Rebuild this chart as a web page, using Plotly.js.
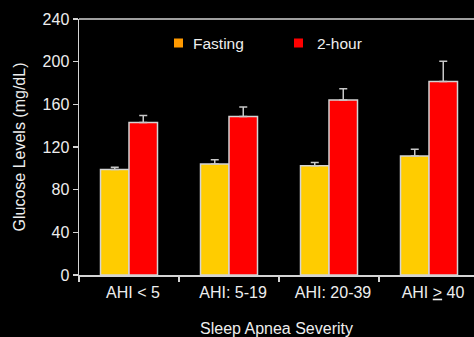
<!DOCTYPE html>
<html>
<head>
<meta charset="utf-8">
<script src="https://cdn.plot.ly/plotly-3.0.1.min.js"></script>
<style>html,body{margin:0;padding:0;background:#000;}</style>
</head>
<body>
<div id="chart" style="width:474px;height:337px;"></div>
<script>
var categories = ["AHI < 5", "AHI: 5-19", "AHI: 20-39", "AHI <u>></u> 40"];
var seriesNames = ["Fasting", "2-hour"];
var fastingValues = [99, 104, 102.5, 111.5];
var fastingErrors = [2, 4, 3, 6.5];
var twoHourValues = [143, 148.5, 164, 181.5];
var twoHourErrors = [6.5, 9, 10.5, 19];
var yTicks = [0, 40, 80, 120, 160, 200, 240];

var W = 474, H = 337;
var M = {l: 79, r: 0, t: 19, b: 62};
var PW = W - M.l - M.r, PH = H - M.t - M.b;
function px(x) { return (x - M.l) / PW; }
function py(y) { return 1 - (y - M.t) / PH; }

var FONT = "Liberation Sans, Arial, sans-serif";
var TXT = "#eeeeee";
var LINE = "#d4d4d4";

function zeros(a) { return a.map(function () { return 0; }); }

var traces = [
  {
    type: "bar", name: seriesNames[0], x: categories, y: fastingValues,
    marker: {color: "#FFCC00", line: {color: LINE, width: 1.5}},
    error_y: {type: "data", symmetric: false, array: fastingErrors, arrayminus: zeros(fastingErrors),
              color: "#c8c8c8", thickness: 1.5, width: 4},
    showlegend: false, hoverinfo: "none"
  },
  {
    type: "bar", name: seriesNames[1], x: categories, y: twoHourValues,
    marker: {color: "#FF0000", line: {color: LINE, width: 1.5}},
    error_y: {type: "data", symmetric: false, array: twoHourErrors, arrayminus: zeros(twoHourErrors),
              color: "#c8c8c8", thickness: 1.5, width: 4},
    showlegend: false, hoverinfo: "none"
  }
];

var legendColors = ["#FF9900", "#FF0000"];
var legendSquareX = [174, 294];
var legendTextX = [191, 315];
var shapes = [{type: "line", xref: "paper", yref: "paper", x0: 0, x1: 1, y0: 1, y1: 1,
               line: {color: LINE, width: 1.5}}];
var annotations = [];
for (var i = 0; i < seriesNames.length; i++) {
  shapes.push({type: "rect", xref: "paper", yref: "paper",
    x0: px(legendSquareX[i]), x1: px(legendSquareX[i] + 9),
    y0: py(47.5), y1: py(38.5),
    fillcolor: legendColors[i], line: {width: 0}});
  annotations.push({xref: "paper", yref: "paper", x: px(legendTextX[i]), y: py(43),
    xanchor: "left", yanchor: "middle", showarrow: false, text: seriesNames[i],
    font: {family: FONT, size: 15.5, color: TXT}});
}

var layout = {
  width: W, height: H,
  margin: M,
  paper_bgcolor: "#000000", plot_bgcolor: "#000000",
  font: {family: FONT, size: 16, color: TXT},
  barmode: "group", bargap: 0.43, bargroupgap: 0,
  showlegend: false,
  xaxis: {
    type: "category", range: [-0.5, 3.45], automargin: false,
    showline: true, linecolor: LINE, linewidth: 1.5,
    ticks: "outside", tickson: "boundaries", ticklen: 5, tickcolor: LINE, tickwidth: 1.5,
    ticklabelshift: 4, ticklabelstandoff: 2,
    showgrid: false, zeroline: false,
    tickfont: {family: FONT, size: 16, color: TXT},
    title: {text: "Sleep Apnea Severity", font: {family: FONT, size: 16, color: TXT}, standoff: 23}
  },
  yaxis: {
    range: [0, 240], tickvals: yTicks, ticktext: yTicks.map(String), automargin: false,
    showline: true, linecolor: LINE, linewidth: 1.5,
    ticks: "outside", ticklen: 5, tickcolor: LINE, tickwidth: 1.5,
    showgrid: false, zeroline: false,
    tickfont: {family: FONT, size: 16, color: TXT},
    title: {text: "Glucose Levels (mg/dL)", font: {family: FONT, size: 16, color: TXT}, standoff: 13}
  },
  shapes: shapes,
  annotations: annotations
};

Plotly.newPlot("chart", traces, layout, {displayModeBar: false, staticPlot: true});
</script>
</body>
</html>
